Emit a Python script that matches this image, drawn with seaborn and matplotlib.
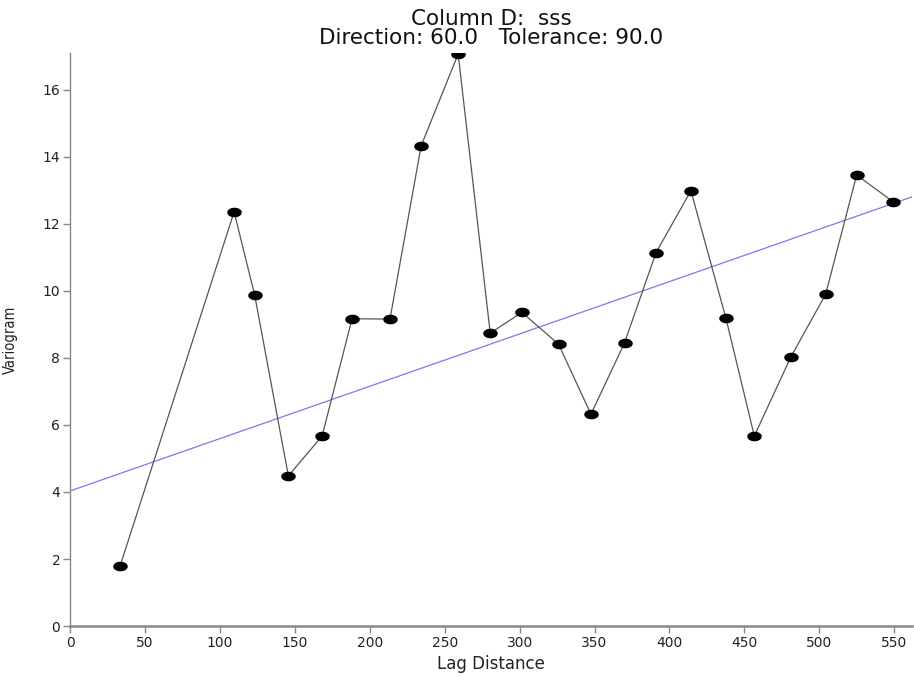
import matplotlib
matplotlib.use('Agg')
import matplotlib.pyplot as plt
import seaborn as sns
import pandas as pd
import numpy as np

lag = [33.4, 109.5, 123.2, 145.7, 168.2, 188.2, 213.5, 234.3, 259.0, 280.4, 301.5,
       326.0, 347.6, 370.0, 391.0, 414.3, 437.7, 456.6, 481.0, 504.2, 524.9, 549.2]
variogram = [1.79, 12.36, 9.88, 4.48, 5.67, 9.17, 9.16, 14.33, 17.07, 8.74, 9.36,
             8.41, 6.32, 8.45, 11.14, 12.99, 9.18, 5.67, 8.03, 9.90, 13.46, 12.66]

# linear model line (end values)
model_lag = [0, 562]
model_val = [4.03, 12.81]

xticks = list(range(0, 551, 50))
yticks = list(range(0, 17, 2))

data = pd.DataFrame({'lag': lag, 'variogram': variogram})
model = pd.DataFrame({'lag': model_lag, 'variogram': model_val})

sns.set_style('white')
plt.rcParams['font.family'] = ['DejaVu Sans']

fig = plt.figure(figsize=(9.14, 6.77), dpi=100)
ax = fig.add_axes([0.0766, 0.0753, 0.9215, 0.8464])

sns.lineplot(data=model, x='lag', y='variogram', color='#7b7be6', linewidth=0.9, ax=ax)
sns.lineplot(data=data, x='lag', y='variogram', color='#555555', linewidth=0.9,
             sort=False, ax=ax)

# ellipse marker, wider than tall
t = np.linspace(0, 2 * np.pi, 40)
ell = np.column_stack([np.cos(t), 0.66 * np.sin(t)])
sns.scatterplot(data=data, x='lag', y='variogram', marker=ell, s=110, color='black',
                edgecolor='black', linewidth=0, zorder=5, ax=ax)

ax.set_xlim(0, 562)
ax.set_ylim(0, 17.1)
ax.set_xticks(xticks)
ax.set_yticks(yticks)

for s in ['top', 'right']:
    ax.spines[s].set_visible(False)
for s in ['left', 'bottom']:
    ax.spines[s].set_color('#888888')
ax.spines['left'].set_linewidth(1.0)
ax.spines['bottom'].set_linewidth(1.8)

ax.tick_params(axis='both', direction='out', length=5, width=1, color='#888888',
               labelsize=10, labelcolor='#222222', pad=2, left=True, bottom=True)

ax.set_xlabel('Lag Distance', fontsize=12, color='#222222', labelpad=4)
ax.set_ylabel('Variogram', fontsize=10.5, color='#222222', fontstretch='condensed')
ax.yaxis.set_label_coords(-0.062, 0.5)

ax.set_title('Column D:  sss\nDirection: 60.0   Tolerance: 90.0', fontsize=15.5,
             color='#111111', pad=6.5, linespacing=0.95)

fig.savefig('out.png', dpi=100)
